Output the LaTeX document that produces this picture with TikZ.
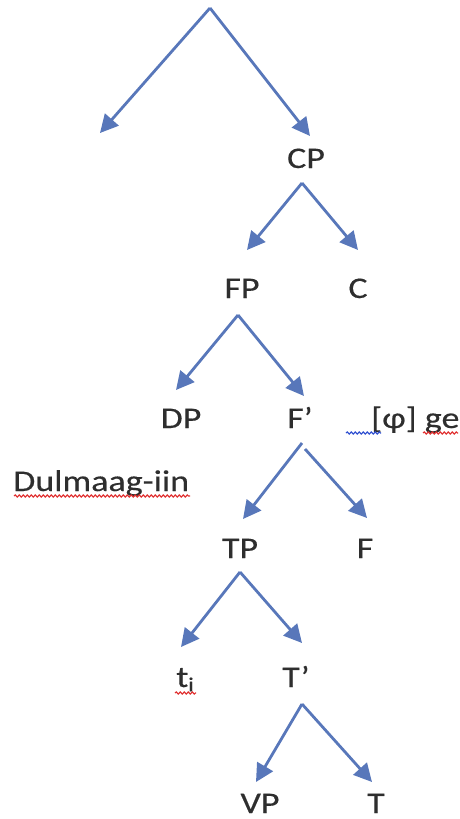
\documentclass[tikz,border=0pt]{standalone}
\usepackage{fontspec}
\setmainfont{Carlito}[FakeStretch=1.2,FakeBold=0.35]
\usetikzlibrary{arrows.meta,decorations.pathmorphing}
\definecolor{branch}{HTML}{5877BA}
\definecolor{spellred}{HTML}{E03030}
\definecolor{spellblue}{HTML}{3050D0}
\tikzset{
  lbl/.style={inner sep=0pt, anchor=base, font=\fontsize{30}{35}\selectfont, text=black!82},
  br/.style={draw=branch, line width=2.8pt, -{Triangle[length=18pt,width=18pt]}},
  wavy/.style={decorate, decoration={snake, amplitude=1.1pt, segment length=4pt}, line width=1.1pt}
}
\begin{document}
\begin{tikzpicture}[x=1pt,y=-1pt]
\useasboundingbox (0,0) rectangle (459,819);
% category labels (placed by their baselines)
\node[lbl] (CP) at (306,168) {CP};
\node[lbl] (FP) at (242,298) {FP};
\node[lbl] (C) at (358,298) {C};
\node[lbl] (DP) at (181,428) {DP};
\node[lbl] (Fb) at (300,428) {F’};
\node[lbl, anchor=base west] (phi) at (371,428) {[φ] ge};
\node[lbl, anchor=base west] (Dul) at (13,491) {Dulmaag-iin};
\node[lbl] (TP) at (240,558) {TP};
\node[lbl] (F) at (365,558) {F};
\node[lbl] (ti) at (185,687) {t\raisebox{-0.3ex}{\fontsize{20}{24}\selectfont i}};
\node[lbl] (Tb) at (296,687) {T’};
\node[lbl] (VP) at (260,813) {VP};
\node[lbl] (T) at (376,813) {T};
% branching points
\coordinate (top) at (210,8);
\coordinate (cpB) at (302,183);
\coordinate (fpB) at (238,315);
\coordinate (fbL) at (302,443);
\coordinate (fbR) at (305,449);
\coordinate (tpB) at (240,572);
\coordinate (tbB) at (302,704);
% arrow tips
\coordinate (leftEnd) at (100,133);
\coordinate (cpTip) at (310,136);
\coordinate (fpTip) at (247,250);
\coordinate (cTip) at (358,250);
\coordinate (dpTip) at (176,390);
\coordinate (fbTip) at (304,396);
\coordinate (tpTip) at (243,519);
\coordinate (fTip) at (367,518);
\coordinate (tiTip) at (181,647);
\coordinate (tbTip) at (302,643);
\coordinate (vpTip) at (256,782);
\coordinate (tTip) at (372,782);
% branches
\draw[br] (top) -- (leftEnd);
\draw[br] (top) -- (cpTip);
\draw[br] (cpB) -- (fpTip);
\draw[br] (cpB) -- (cTip);
\draw[br] (fpB) -- (dpTip);
\draw[br] (fpB) -- (fbTip);
\draw[br] (fbL) -- (tpTip);
\draw[br] (fbR) -- (fTip);
\draw[br] (tpB) -- (tiTip);
\draw[br] (tpB) -- (tbTip);
\draw[br] (tbB) -- (vpTip);
\draw[br] (tbB) -- (tTip);
% proofing underlines
\draw[wavy, spellblue] (346,433) -- (381,433);
\draw[wavy, spellred] (423,433) -- (458,433);
\draw[wavy, spellred] (14,496) -- (190,496);
\draw[wavy, spellred] (175,693) -- (196,693);
\end{tikzpicture}
\end{document}
